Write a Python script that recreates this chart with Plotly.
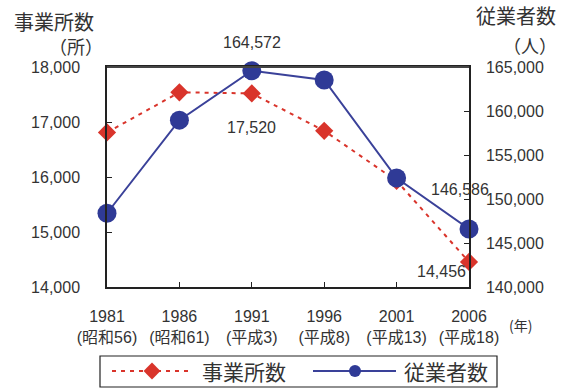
import plotly.graph_objects as go

# Survey years and era labels
years = [1981, 1986, 1991, 1996, 2001, 2006]
era_labels = ["(昭和56)", "(昭和61)", "(平成3)", "(平成8)", "(平成13)", "(平成18)"]

# Number of establishments (left axis) and employees (right axis)
establishments = [16810, 17540, 17520, 16840, 15930, 14456]
employees = [148380, 158960, 164572, 163520, 152380, 146586]

left_ticks = [14000, 15000, 16000, 17000, 18000]
right_ticks = [140000, 145000, 150000, 155000, 160000, 165000]

W, H = 563, 388
RED = "#d9342b"
BLUE = "#2f3a96"
LINE_BLUE = "#3a4199"
TXT = "#333333"
NUM_FONT = "Liberation Sans, Arial, Noto Sans CJK JP"
JP_FONT = "Noto Sans CJK JP, Liberation Sans"


def px(x):
    return x / W


def py(y):
    return 1 - y / H


fig = go.Figure()

fig.add_trace(go.Scatter(
    x=years, y=establishments, name="事業所数", mode="lines+markers",
    line=dict(color=RED, width=2, dash="4px,5px"),
    marker=dict(symbol="diamond", size=14, color=RED),
    cliponaxis=False, yaxis="y",
))
fig.add_trace(go.Scatter(
    x=years, y=employees, name="従業者数", mode="lines+markers",
    line=dict(color=LINE_BLUE, width=2),
    marker=dict(symbol="circle", size=19, color=BLUE),
    cliponaxis=False, yaxis="y2",
))

# Legend glyphs drawn on a small helper axis below the chart
fig.add_trace(go.Scatter(
    x=[112, 188], y=[0.5, 0.5], mode="lines", xaxis="x3", yaxis="y3",
    line=dict(color=RED, width=2, dash="4px,5px"), hoverinfo="skip",
))
fig.add_trace(go.Scatter(
    x=[152], y=[0.5], mode="markers", xaxis="x3", yaxis="y3",
    marker=dict(symbol="diamond", size=13, color=RED), hoverinfo="skip",
))
fig.add_trace(go.Scatter(
    x=[313, 396], y=[0.5, 0.5], mode="lines", xaxis="x3", yaxis="y3",
    line=dict(color=LINE_BLUE, width=2), hoverinfo="skip",
))
fig.add_trace(go.Scatter(
    x=[355], y=[0.5], mode="markers", xaxis="x3", yaxis="y3",
    marker=dict(symbol="circle", size=12, color=BLUE), hoverinfo="skip",
))

tick_text = [f"{y}<br>{e}" for y, e in zip(years, era_labels)]

fig.update_layout(
    width=W, height=H, autosize=False,
    margin=dict(l=0, r=0, t=0, b=0, pad=0, autoexpand=False),
    paper_bgcolor="white", plot_bgcolor="white",
    showlegend=False,
    font=dict(family=NUM_FONT, color=TXT),
    xaxis=dict(
        domain=[px(107), px(469)], range=[1981, 2006], automargin=False,
        tickvals=years, ticktext=tick_text,
        tickfont=dict(size=16, family=NUM_FONT, color=TXT),
        ticks="inside", ticklen=5, tickcolor="#222",
        showline=True, linecolor="#222", linewidth=1.5, mirror=True,
        showgrid=False, zeroline=False, ticklabelstandoff=14,
    ),
    yaxis=dict(
        domain=[py(287), py(67)], range=[14000, 18000], automargin=False,
        tickvals=left_ticks, tickformat=",d",
        tickfont=dict(size=16, family=NUM_FONT, color=TXT),
        ticks="inside", ticklen=5, tickcolor="#222",
        showline=True, linecolor="#222", linewidth=1.5,
        showgrid=False, zeroline=False, ticklabelstandoff=22,
    ),
    yaxis2=dict(
        domain=[py(287), py(67)], range=[140000, 165000], automargin=False,
        overlaying="y", side="right", anchor="x",
        tickvals=right_ticks, tickformat=",d",
        tickfont=dict(size=16, family=NUM_FONT, color=TXT),
        ticks="inside", ticklen=5, tickcolor="#222",
        showline=True, linecolor="#222", linewidth=1.5,
        showgrid=False, zeroline=False, ticklabelstandoff=12,
    ),
    xaxis3=dict(domain=[0, 1], range=[0, W], visible=False, anchor="y3",
                automargin=False),
    yaxis3=dict(domain=[py(384), py(358)], range=[0, 1], visible=False,
                anchor="x3", automargin=False),
)

# Top border of the plot area
fig.add_shape(type="line", xref="paper", yref="paper",
              x0=px(107), x1=px(469), y0=py(67), y1=py(67),
              line=dict(color="#444", width=2))

# Legend frame
fig.add_shape(type="rect", xref="paper", yref="paper",
              x0=px(100), x1=px(497), y0=py(356), y1=py(387),
              line=dict(color="#222", width=1.2))

annotations = [
    dict(text="事業所数", x=px(12), y=py(21), xanchor="left", yanchor="middle",
         font=dict(size=20, family=JP_FONT)),
    dict(text="（所）", x=px(105), y=py(46), xanchor="right", yanchor="middle",
         font=dict(size=18, family=JP_FONT)),
    dict(text="従業者数", x=px(558), y=py(16), xanchor="right", yanchor="middle",
         font=dict(size=20, family=JP_FONT)),
    dict(text="（人）", x=px(559), y=py(45), xanchor="right", yanchor="middle",
         font=dict(size=18, family=JP_FONT)),
    dict(text="(年)", x=px(520), y=py(325), xanchor="center", yanchor="middle",
         font=dict(size=14, family=JP_FONT)),
    dict(text="事業所数", x=px(200), y=py(371), xanchor="left", yanchor="middle",
         font=dict(size=21, family=JP_FONT)),
    dict(text="従業者数", x=px(402), y=py(371), xanchor="left", yanchor="middle",
         font=dict(size=21, family=JP_FONT)),
]
for a in annotations:
    a.update(xref="paper", yref="paper", showarrow=False)
    a["font"].setdefault("color", TXT)
    fig.add_annotation(**a)

# Value labels attached to their data points
i91 = years.index(1991)
i06 = years.index(2006)
value_labels = [
    (years[i91], employees[i91], "y2", 0, 28),
    (years[i91], establishments[i91], "y", 0, -34),
    (years[i06], employees[i06], "y2", -9, 40),
    (years[i06], establishments[i06], "y", -28, -10),
]
for x, v, yref, xs, ys in value_labels:
    fig.add_annotation(
        x=x, y=v, xref="x", yref=yref, text=f"{v:,}", showarrow=False,
        xshift=xs, yshift=ys, font=dict(size=16, family=NUM_FONT, color=TXT),
    )

fig.write_html("out.html")
